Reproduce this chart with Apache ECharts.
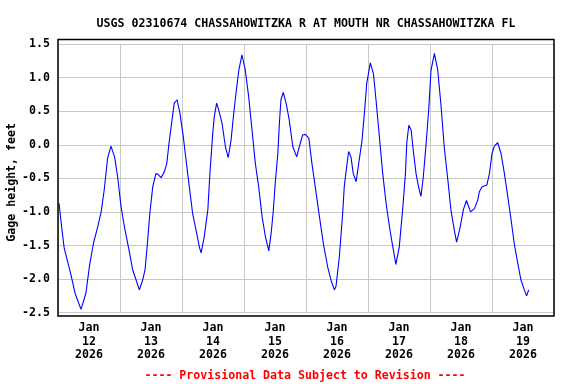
<!DOCTYPE html>
<html><head><meta charset="utf-8">
<script src="https://cdn.jsdelivr.net/npm/echarts@6/dist/echarts.min.js"></script>
<style>html,body{margin:0;padding:0;background:#fff}#c{width:576px;height:384px}</style>
</head><body><div id="c"></div>
<script>
const titleText = 'USGS 02310674 CHASSAHOWITZKA R AT MOUTH NR CHASSAHOWITZKA FL';
const footerText = '---- Provisional Data Subject to Revision ----';
const yAxisName = 'Gage height, feet';
const dayLabels = ['Jan\n12\n2026','Jan\n13\n2026','Jan\n14\n2026','Jan\n15\n2026','Jan\n16\n2026','Jan\n17\n2026','Jan\n18\n2026','Jan\n19\n2026'];
// hours since Jan 12 2026 00:00
const hours = [0.4,1.4,2.4,4.8,6.6,8.9,10.8,12.2,13.7,15.4,16.7,17.9,19.2,20.5,21.9,23.1,24.4,25.7,27.6,28.9,30.2,31.5,32.8,33.7,34.5,35.6,36.7,37.9,38.7,39.9,41.2,42.1,42.9,43.9,45.0,46.1,47.2,48.5,50.2,52.1,53.7,54.7,55.4,56.6,58.0,58.8,59.9,60.5,61.4,62.2,63.5,64.8,65.9,67.0,67.9,68.9,70.0,71.2,72.5,73.8,75.1,76.4,77.7,79.0,80.3,81.6,82.5,83.3,84.1,85.1,85.7,86.3,87.2,88.3,89.5,90.9,92.4,93.4,94.7,95.7,97.1,98.3,99.6,101.2,102.7,104.4,105.7,107.0,107.6,108.9,109.6,110.2,110.8,111.5,112.5,113.4,114.3,115.4,116.4,117.7,118.6,119.5,120.9,122.1,123.1,124.4,125.7,127.0,128.3,129.6,130.8,132.1,133.4,134.5,135.0,135.8,136.7,137.5,138.6,139.6,140.5,141.4,142.5,143.5,144.4,145.7,147.0,148.3,149.5,150.9,152.1,153.4,154.3,155.6,156.9,158.1,159.7,161.2,162.5,163.1,164.1,166.0,167.0,168.0,168.9,170.2,171.5,172.8,174.1,175.4,176.6,178.0,179.2,180.5,181.4,182.2];
const gage = [-0.87,-1.22,-1.54,-1.90,-2.21,-2.45,-2.21,-1.80,-1.47,-1.22,-1.00,-0.67,-0.20,-0.02,-0.18,-0.48,-0.92,-1.22,-1.59,-1.86,-2.01,-2.16,-2.01,-1.86,-1.52,-1.00,-0.62,-0.43,-0.44,-0.49,-0.40,-0.28,0.00,0.30,0.62,0.67,0.47,0.12,-0.43,-1.02,-1.32,-1.52,-1.61,-1.37,-0.97,-0.43,0.17,0.42,0.62,0.52,0.32,-0.03,-0.19,0.07,0.42,0.77,1.11,1.34,1.11,0.72,0.22,-0.28,-0.63,-1.07,-1.37,-1.58,-1.32,-1.00,-0.57,-0.13,0.32,0.67,0.78,0.62,0.37,-0.03,-0.18,-0.03,0.145,0.155,0.10,-0.28,-0.63,-1.07,-1.47,-1.82,-2.02,-2.16,-2.11,-1.67,-1.32,-1.02,-0.63,-0.40,-0.10,-0.18,-0.43,-0.55,-0.28,0.07,0.47,0.91,1.22,1.06,0.67,0.12,-0.43,-0.87,-1.22,-1.52,-1.78,-1.52,-0.97,-0.43,0.02,0.29,0.22,-0.08,-0.43,-0.63,-0.77,-0.48,0.02,0.52,1.11,1.36,1.11,0.57,-0.03,-0.52,-0.97,-1.27,-1.45,-1.24,-0.97,-0.83,-1.00,-0.95,-0.82,-0.70,-0.63,-0.60,-0.43,-0.13,-0.02,0.03,-0.13,-0.43,-0.77,-1.12,-1.47,-1.77,-2.01,-2.16,-2.25,-2.16];

const font = 'DejaVu Sans Mono';
const fs = 11.6;
const data = hours.map((h, i) => [h, gage[i]]);
const chart = echarts.init(document.getElementById('c'), null, {renderer: 'canvas'});
chart.setOption({
  animation: false,
  backgroundColor: '#fff',
  title: {
    text: titleText, left: 301, top: 13, textAlign: 'center',
    textStyle: {fontFamily: font, fontSize: fs, fontWeight: 'bold', color: '#000'}
  },
  grid: {left: 58, right: 22, top: 44, bottom: 71.3, containLabel: false, outerBoundsMode: 'none'},
  xAxis: [{
    type: 'value', min: 0, max: 192, interval: 24,
    axisLine: {show: false}, axisTick: {show: false}, axisLabel: {show: false},
    splitLine: {show: true, lineStyle: {color: '#c8c8c8', width: 1}}
  }, {
    type: 'value', min: 0, max: 192, interval: 12, position: 'bottom',
    axisLine: {show: false}, axisTick: {show: false},
    splitLine: {show: false},
    axisLabel: {
      margin: 9, lineHeight: 13.2, color: '#000',
      fontFamily: font, fontSize: fs, fontWeight: 'bold', align: 'center',
      formatter: v => (v % 24 === 12) ? dayLabels[(v - 12) / 24] : ''
    }
  }],
  yAxis: {
    type: 'value', min: -2.5, max: 1.5, interval: 0.5,
    name: yAxisName, nameLocation: 'middle', nameRotate: 90, nameGap: 40, nameMoveOverlap: false,
    nameTextStyle: {fontFamily: font, fontSize: fs, fontWeight: 'bold', color: '#000', padding: [0, 8, 0, 0]},
    axisLine: {show: false}, axisTick: {show: false},
    axisLabel: {margin: 8, color: '#000', fontFamily: font, fontSize: fs, fontWeight: 'bold',
      formatter: v => v.toFixed(1)},
    splitLine: {show: true, lineStyle: {color: '#c8c8c8', width: 1}}
  },
  series: [{
    type: 'line', xAxisIndex: 0, data: data, showSymbol: false, symbol: 'none',
    lineStyle: {color: '#0000ff', width: 1.1}, smooth: false, silent: true
  }],
  graphic: [{
    type: 'rect', silent: true, z: 100,
    shape: {x: 58, y: 39.5, width: 496, height: 276.5},
    style: {fill: 'none', stroke: '#000', lineWidth: 1.5}
  }, {
    type: 'text', silent: true, x: 305, y: 376,
    style: {text: footerText, fill: '#ff0000', font: 'bold 11.6px "DejaVu Sans Mono"',
      textAlign: 'center', textVerticalAlign: 'middle'}
  }]
});
</script></body></html>
